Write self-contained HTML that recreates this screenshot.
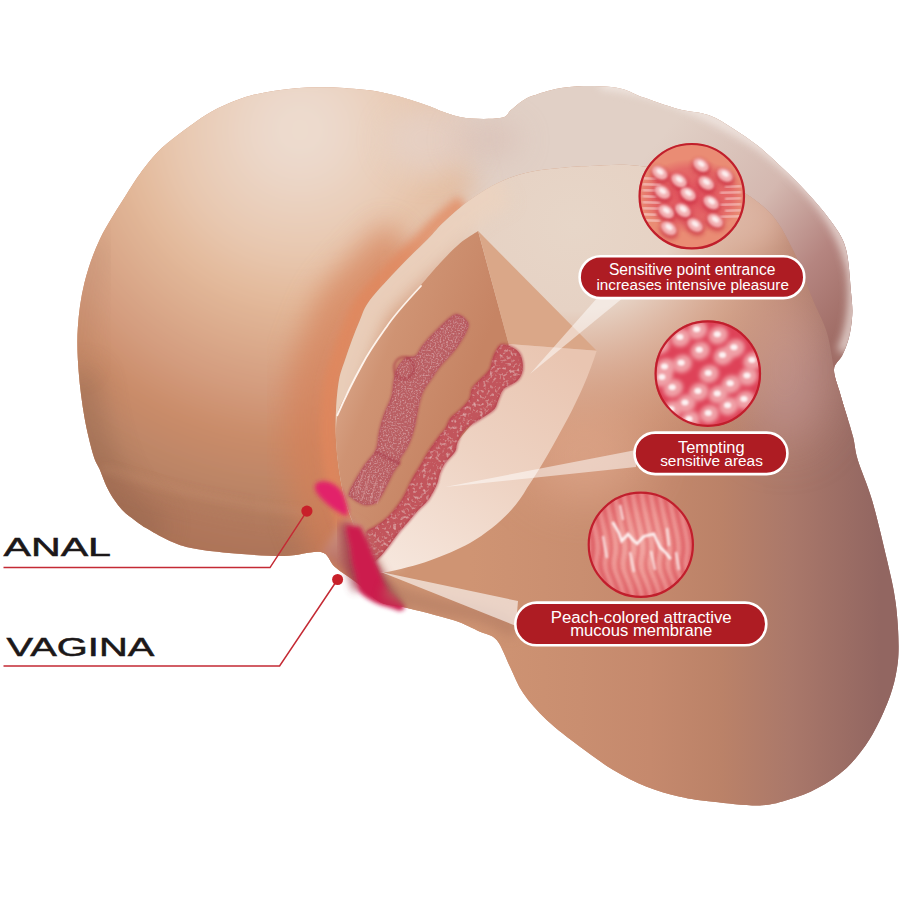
<!DOCTYPE html>
<html><head><meta charset="utf-8">
<style>
html,body{margin:0;padding:0;background:#fff;}
body{width:900px;height:900px;overflow:hidden;position:relative;font-family:"Liberation Sans",sans-serif;}
svg{position:absolute;left:0;top:0;}
</style></head><body>
<svg width="900" height="900" viewBox="0 0 900 900">
<defs>
  <filter id="b1" x="-50%" y="-50%" width="200%" height="200%"><feGaussianBlur stdDeviation="1"/></filter>
  <filter id="b2" x="-50%" y="-50%" width="200%" height="200%"><feGaussianBlur stdDeviation="2"/></filter>
  <filter id="b4" x="-50%" y="-50%" width="200%" height="200%"><feGaussianBlur stdDeviation="4"/></filter>
  <filter id="b6" x="-50%" y="-50%" width="200%" height="200%"><feGaussianBlur stdDeviation="6"/></filter>
  <filter id="b8" x="-50%" y="-50%" width="200%" height="200%"><feGaussianBlur stdDeviation="8"/></filter>
  <filter id="b10" x="-50%" y="-50%" width="200%" height="200%"><feGaussianBlur stdDeviation="10"/></filter>
  <filter id="b14" x="-50%" y="-50%" width="200%" height="200%"><feGaussianBlur stdDeviation="14"/></filter>
  <filter id="b25" x="-50%" y="-50%" width="200%" height="200%"><feGaussianBlur stdDeviation="25"/></filter>
  <filter id="b40" x="-50%" y="-50%" width="200%" height="200%"><feGaussianBlur stdDeviation="40"/></filter>
  <clipPath id="bodyclip"><path d="M162.0,147.8 C168.7,141.5 177.0,135.6 184.4,130.0 C191.8,124.4 199.3,118.9 206.7,114.4 C214.1,110.0 221.5,106.4 228.9,103.3 C236.3,100.2 243.6,97.6 251.0,95.6 C258.4,93.6 265.9,92.3 273.3,91.1 C280.7,89.9 288.2,88.8 295.6,88.2 C303.0,87.6 310.4,87.4 317.8,87.3 C325.2,87.2 329.6,87.0 340.0,87.8 C350.4,88.6 366.7,89.5 380.0,92.0 C393.3,94.5 406.7,98.8 420.0,103.0 C433.3,107.2 446.7,114.5 460.0,117.0 C473.3,119.5 491.5,119.2 500.0,118.0 C508.5,116.8 507.3,112.8 511.0,110.0 C514.7,107.2 518.5,103.5 522.2,101.1 C525.9,98.7 527.7,97.6 533.3,95.6 C538.9,93.6 548.2,90.5 555.6,88.9 C563.0,87.3 570.4,86.7 577.8,86.2 C585.2,85.8 592.6,85.8 600.0,86.2 C607.4,86.7 614.8,87.0 622.2,88.9 C629.6,90.8 635.1,94.5 644.4,97.8 C653.7,101.1 667.0,106.0 677.8,108.9 C688.6,111.8 699.8,111.9 709.0,115.2 C718.2,118.5 725.2,123.6 733.3,128.7 C741.4,133.8 749.6,139.3 757.8,145.8 C765.9,152.3 774.1,160.1 782.2,167.8 C790.4,175.5 798.6,183.2 806.7,192.2 C814.9,201.2 824.6,212.2 831.1,221.6 C837.6,231.0 842.5,236.6 845.8,248.5 C849.1,260.4 850.0,282.1 851.1,293.3 C852.2,304.5 852.6,308.2 852.2,315.6 C851.8,323.0 850.6,331.1 848.9,337.8 C847.2,344.5 844.7,350.3 842.2,355.6 C839.7,360.9 834.4,363.2 834.0,369.5 C833.6,375.8 837.9,385.6 840.0,393.3 C842.1,401.0 844.5,408.2 846.7,415.6 C848.9,423.0 851.4,430.4 853.3,437.8 C855.1,445.2 854.7,449.6 857.8,460.0 C860.9,470.4 867.1,483.3 872.0,500.0 C876.9,516.7 883.0,542.8 887.0,560.0 C891.0,577.2 893.8,588.6 895.7,603.0 C897.6,617.4 898.6,634.5 898.6,646.6 C898.6,658.7 897.6,665.9 895.7,675.5 C893.8,685.1 891.3,693.4 887.0,704.0 C882.7,714.6 876.4,728.4 869.7,739.0 C863.0,749.6 855.3,759.7 846.6,767.9 C837.9,776.1 827.3,782.7 817.7,788.0 C808.1,793.3 798.5,796.7 788.9,799.6 C779.3,802.5 772.6,805.0 760.0,805.4 C747.4,805.8 726.6,803.2 713.3,801.7 C700.0,800.2 691.1,799.2 680.0,796.7 C668.9,794.2 657.8,791.2 646.7,786.7 C635.6,782.2 624.4,776.7 613.3,770.0 C602.2,763.3 591.1,755.0 580.0,746.7 C568.9,738.4 556.2,728.9 546.7,720.0 C537.2,711.1 529.4,702.2 523.3,693.3 C517.2,684.4 514.4,675.6 510.0,666.7 C505.6,657.8 501.7,645.8 496.7,640.0 C491.7,634.2 487.3,635.0 480.0,631.7 C472.7,628.4 465.8,624.1 453.0,620.0 C440.2,615.9 415.2,610.0 403.0,607.0 C390.8,604.0 387.7,606.0 380.0,602.0 C372.3,598.0 364.5,588.8 357.0,583.0 C349.5,577.2 341.0,572.2 335.0,567.0 C329.0,561.8 329.5,553.8 321.0,552.0 C312.5,550.2 299.3,555.8 284.0,556.0 C268.7,556.2 244.7,554.4 229.0,553.0 C213.3,551.6 200.2,550.0 190.0,547.8 C179.8,545.6 175.2,543.3 167.8,540.0 C160.4,536.7 151.2,531.1 145.6,527.8 C140.0,524.5 138.1,522.8 134.4,520.0 C130.7,517.2 126.6,514.4 123.3,511.1 C120.0,507.8 117.2,504.1 114.4,500.0 C111.6,495.9 109.1,491.7 106.7,486.7 C104.3,481.7 102.2,475.3 100.0,470.0 C97.8,464.7 95.9,463.8 93.3,455.0 C90.7,446.2 86.8,430.8 84.4,417.0 C82.0,403.2 79.8,386.8 78.7,372.0 C77.6,357.2 76.8,342.8 77.8,328.0 C78.8,313.2 80.7,297.8 84.4,283.0 C88.1,268.2 93.0,253.8 100.0,239.0 C107.0,224.2 119.3,205.9 126.7,194.0 C134.1,182.1 138.5,175.5 144.4,167.8 C150.3,160.1 155.3,154.1 162.0,147.8 Z"/></clipPath>
  <linearGradient id="gHump" x1="650" y1="150" x2="850" y2="320" gradientUnits="userSpaceOnUse">
    <stop offset="0" stop-color="#e1d0c6"/>
    <stop offset="0.45" stop-color="#d4b8b0"/>
    <stop offset="0.75" stop-color="#b58580"/>
    <stop offset="1" stop-color="#a06d66"/>
  </linearGradient>
  <linearGradient id="gLobe" x1="470" y1="0" x2="880" y2="0" gradientUnits="userSpaceOnUse">
    <stop offset="0" stop-color="#cf9473"/>
    <stop offset="0.27" stop-color="#c98e70"/>
    <stop offset="0.44" stop-color="#c5896d"/>
    <stop offset="0.61" stop-color="#bb8268"/>
    <stop offset="0.78" stop-color="#aa786a"/>
    <stop offset="1" stop-color="#926661"/>
  </linearGradient>
  <radialGradient id="gLeft" cx="300" cy="130" r="420" gradientUnits="userSpaceOnUse">
    <stop offset="0" stop-color="#eddccf"/>
    <stop offset="0.08" stop-color="#ecd9cc"/>
    <stop offset="0.29" stop-color="#e8c8b0"/>
    <stop offset="0.41" stop-color="#e3b99a"/>
    <stop offset="0.63" stop-color="#d39b7d"/>
    <stop offset="0.74" stop-color="#ca8b68"/>
    <stop offset="0.87" stop-color="#bb8566"/>
    <stop offset="1" stop-color="#ad7358"/>
  </radialGradient>
  <radialGradient id="gOvalLight" cx="575" cy="225" r="290" gradientUnits="userSpaceOnUse" gradientTransform="translate(575 225) scale(1 0.9) translate(-575 -225)">
    <stop offset="0" stop-color="#e7d6c8" stop-opacity="1"/>
    <stop offset="0.33" stop-color="#e6d2c4" stop-opacity="1"/>
    <stop offset="0.55" stop-color="#e0b8a3" stop-opacity="0.75"/>
    <stop offset="0.8" stop-color="#dca587" stop-opacity="0.35"/>
    <stop offset="1" stop-color="#d39a7b" stop-opacity="0"/>
  </radialGradient>
</defs>
<clipPath id="lobeclip"><path d="M378.0,572.0 C374.3,565.0 361.5,542.0 356.0,530.0 C350.5,518.0 347.8,510.0 345.0,500.0 C342.2,490.0 340.5,480.0 339.0,470.0 C337.5,460.0 336.5,450.0 336.0,440.0 C335.5,430.0 335.5,420.0 336.0,410.0 C336.5,400.0 337.5,388.3 339.0,380.0 C340.5,371.7 342.8,366.7 345.0,360.0 C347.2,353.3 349.5,346.7 352.0,340.0 C354.5,333.3 357.0,326.7 360.0,320.0 C363.0,313.3 363.3,308.9 370.0,300.0 C376.7,291.1 390.3,276.9 400.0,266.7 C409.7,256.5 420.7,246.4 428.0,239.0 C435.3,231.6 437.0,228.5 444.0,222.0 C451.0,215.5 460.7,206.7 470.0,200.0 C479.3,193.3 490.0,186.7 500.0,182.0 C510.0,177.3 520.0,174.3 530.0,172.0 C540.0,169.7 550.0,169.0 560.0,168.0 C570.0,167.0 576.7,166.3 590.0,166.0 C603.3,165.7 618.3,163.3 640.0,166.0 C661.7,168.7 698.8,174.7 720.0,182.0 C741.2,189.3 754.8,198.7 767.0,210.0 C779.2,221.3 785.3,235.0 793.0,250.0 C800.7,265.0 807.3,286.2 813.0,300.0 C818.7,313.8 823.5,321.3 827.0,333.0 C830.5,344.7 832.8,363.8 834.0,370.0  L900,372 L900,900 L380,900 Z"/></clipPath>
<g clip-path="url(#bodyclip)">
<rect x="0" y="0" width="900" height="900" fill="url(#gLobe)"/>
<rect x="380" y="0" width="520" height="420" fill="url(#gHump)"/>
<path d="M600,84 C650,88 700,108 760,145 C800,175 840,215 852,270 C856,300 852,330 842,352" fill="none" stroke="#f4ece8" stroke-width="10" filter="url(#b4)" opacity="0.8"/>
<path d="M440,60 L0,60 L0,620 L372,566 C355,545 345,520 340,487 C337,437 340,380 355,340 C370,300 395,262 433,224 C450,208 462,200 475,192 C462,160 450,120 440,60 Z" fill="url(#gLeft)" filter="url(#b14)"/>
<ellipse cx="430" cy="140" rx="45" ry="35" fill="#e5d1c7" filter="url(#b14)" opacity="0.8"/>
<path d="M356.0,576.0 C352.3,569.0 339.5,546.0 334.0,534.0 C328.5,522.0 325.8,514.0 323.0,504.0 C320.2,494.0 318.5,484.0 317.0,474.0 C315.5,464.0 314.5,454.0 314.0,444.0 C313.5,434.0 313.5,424.0 314.0,414.0 C314.5,404.0 315.5,392.3 317.0,384.0 C318.5,375.7 320.8,370.7 323.0,364.0 C325.2,357.3 327.5,350.7 330.0,344.0 C332.5,337.3 335.0,330.7 338.0,324.0 C341.0,317.3 341.3,312.9 348.0,304.0 C354.7,295.1 368.3,280.9 378.0,270.7 C387.7,260.5 401.3,247.6 406.0,243.0 " fill="none" stroke="#d57f56" stroke-width="60" filter="url(#b14)" opacity="0.65"/>
<path d="M371.0,574.0 C367.3,567.0 354.5,544.0 349.0,532.0 C343.5,520.0 340.8,512.0 338.0,502.0 C335.2,492.0 333.5,482.0 332.0,472.0 C330.5,462.0 329.5,452.0 329.0,442.0 C328.5,432.0 328.5,422.0 329.0,412.0 C329.5,402.0 330.5,390.3 332.0,382.0 C333.5,373.7 335.8,368.7 338.0,362.0 C340.2,355.3 342.5,348.7 345.0,342.0 C347.5,335.3 350.0,328.7 353.0,322.0 C356.0,315.3 356.3,310.9 363.0,302.0 C369.7,293.1 383.3,278.9 393.0,268.7 C402.7,258.5 413.7,248.4 421.0,241.0 C428.3,233.6 430.0,230.5 437.0,224.0 C444.0,217.5 458.7,205.7 463.0,202.0 " fill="none" stroke="#e2865c" stroke-width="16" filter="url(#b4)" opacity="0.75"/>
<ellipse cx="488" cy="140" rx="34" ry="20" fill="#d8bdb4" filter="url(#b14)" opacity="0.55"/>
<path d="M80,370 C82,417 95,461 112,492 C125,512 140,525 160,535" fill="none" stroke="#8e624c" stroke-width="34" filter="url(#b14)" opacity="0.48"/>
<path d="M100,239 C84,283 77.8,328 78.7,372" fill="none" stroke="#a87a62" stroke-width="16" filter="url(#b14)" opacity="0.3"/>
<path d="M101,467 C120,474 135,478 145.6,481 C165,487 185,492 201,495 C225,500 240,503 256.7,506 C275,509 288,511 305,513" fill="none" stroke="#d8a080" stroke-width="4" filter="url(#b4)" opacity="0.35"/>
<path d="M105,478 C140,492 200,506 300,522" fill="none" stroke="#a86e54" stroke-width="10" filter="url(#b8)" opacity="0.25"/>
</g>
<g clip-path="url(#bodyclip)"><g clip-path="url(#lobeclip)">
<rect x="300" y="100" width="600" height="800" fill="url(#gLobe)"/>
<ellipse cx="785" cy="370" rx="45" ry="75" fill="#c0928c" filter="url(#b25)" opacity="0.85"/>
<ellipse cx="745" cy="215" rx="40" ry="35" fill="#d8b8b0" filter="url(#b14)" opacity="0.9"/>
<ellipse cx="585" cy="455" rx="60" ry="45" fill="#dea68a" filter="url(#b25)" opacity="0.8"/>
<rect x="300" y="100" width="600" height="800" fill="url(#gOvalLight)"/>
<path d="M378.0,572.0 C374.3,565.0 361.5,542.0 356.0,530.0 C350.5,518.0 347.8,510.0 345.0,500.0 C342.2,490.0 340.5,480.0 339.0,470.0 C337.5,460.0 336.5,450.0 336.0,440.0 C335.5,430.0 335.5,420.0 336.0,410.0 C336.5,400.0 337.5,388.3 339.0,380.0 C340.5,371.7 342.8,366.7 345.0,360.0 C347.2,353.3 349.5,346.7 352.0,340.0 C354.5,333.3 357.0,326.7 360.0,320.0 C363.0,313.3 363.3,308.9 370.0,300.0 C376.7,291.1 390.3,276.9 400.0,266.7 C409.7,256.5 420.7,246.4 428.0,239.0 C435.3,231.6 437.0,228.5 444.0,222.0 C451.0,215.5 460.7,206.7 470.0,200.0 C479.3,193.3 495.0,185.0 500.0,182.0 " fill="none" stroke="#ebd3c0" stroke-width="50" filter="url(#b8)" opacity="0.9"/>
</g></g>
<linearGradient id="gFace" x1="345" y1="330" x2="470" y2="380" gradientUnits="userSpaceOnUse"><stop offset="0" stop-color="#dcab8f"/><stop offset="0.35" stop-color="#cf9373"/><stop offset="1" stop-color="#c68464"/></linearGradient>
<path d="M478.1,231.1 C475.1,233.1 466.0,238.3 460.0,243.3 C454.0,248.3 447.8,254.9 442.0,261.0 C436.2,267.1 432.3,271.9 425.3,280.0 C418.3,288.1 406.4,301.5 400.0,309.3 C393.6,317.1 390.8,321.0 386.7,326.7 C382.6,332.4 378.8,338.0 375.3,343.3 C371.9,348.6 369.4,352.6 366.0,358.7 C362.6,364.8 358.5,373.1 354.7,380.0 C350.9,386.9 345.9,394.1 343.0,400.0 C340.1,405.9 338.5,408.6 337.3,415.3 C336.1,422.0 335.7,430.9 336.0,440.0 C336.3,449.1 337.5,460.0 339.0,470.0 C340.5,480.0 342.2,490.0 345.0,500.0 C347.8,510.0 352.2,520.7 356.0,530.0 C359.8,539.3 364.3,549.0 368.0,556.0 C371.7,563.0 376.3,569.3 378.0,572.0  L470,470 L508.7,344 Z" fill="url(#gFace)"/>
<path d="M478.1,231.1 L596.7,350.7 L508.7,344 Z" fill="#daa788"/>
<path d="M421,286 C408,300 395,314 386.7,326.7 C378,339 370,350 362,365 C352,383 344,400 337.3,415.3" fill="none" stroke="#fff7f0" stroke-width="1.8" stroke-linecap="round" opacity="0.95"/>
<linearGradient id="gFacet" x1="560" y1="350" x2="400" y2="570" gradientUnits="userSpaceOnUse"><stop offset="0" stop-color="#e9c5b1"/><stop offset="0.5" stop-color="#eed3c3"/><stop offset="1" stop-color="#f6e6dc"/></linearGradient>
<path d="M508.7,344 L596.7,350.7 C589,375 579,397 568,418 C554,444 542,466 527,488 C515,510 495,528 470,543 C445,556 420,566 380,573.3 L372,560 C385,545 400,530 412,515 C425,495 435,478 445,460 C460,435 480,415 495,400 C505,385 512,370 508.7,344 Z" fill="url(#gFacet)"/>
<filter id="tex" x="-5%" y="-5%" width="110%" height="110%">
  <feTurbulence type="fractalNoise" baseFrequency="0.6" numOctaves="2" seed="3" result="n"/>
  <feColorMatrix in="n" type="matrix" values="0 0 0 0 0.86  0 0 0 0 0.56  0 0 0 0 0.58  0 0 0 1.3 -0.62" result="spots"/>
  <feComposite in="spots" in2="SourceGraphic" operator="in" result="s2"/>
  <feMerge><feMergeNode in="SourceGraphic"/><feMergeNode in="s2"/></feMerge>
  <feGaussianBlur stdDeviation="0.7"/>
</filter>
<filter id="tex2" x="-5%" y="-5%" width="110%" height="110%">
  <feTurbulence type="fractalNoise" baseFrequency="0.3" numOctaves="2" seed="7" result="n"/>
  <feColorMatrix in="n" type="matrix" values="0 0 0 0 0.9  0 0 0 0 0.66  0 0 0 0 0.66  0 0 0 1.5 -0.78" result="spots"/>
  <feComposite in="spots" in2="SourceGraphic" operator="in" result="s2"/>
  <feMerge><feMergeNode in="SourceGraphic"/><feMergeNode in="s2"/></feMerge>
  <feGaussianBlur stdDeviation="0.7"/>
</filter>
<path d="M455.6,314.4 C460.6,313.3 466.0,319.4 467.8,322.2 C469.6,325.0 468.2,327.3 466.7,331.0 C465.2,334.7 461.3,340.7 458.9,344.4 C456.5,348.1 455.3,349.6 452.2,353.3 C449.1,357.0 443.3,362.6 440.0,366.7 C436.7,370.8 434.9,373.9 432.2,377.8 C429.5,381.7 426.1,385.8 424.0,390.0 C421.9,394.2 420.9,397.2 419.3,403.3 C417.8,409.4 416.5,419.7 414.7,426.7 C412.9,433.7 410.7,440.1 408.4,445.3 C406.1,450.5 402.3,454.7 400.7,457.8 C399.1,460.9 400.3,461.4 399.0,464.0 C397.7,466.6 395.5,468.6 392.9,473.3 C390.3,478.0 386.4,487.1 383.5,492.0 C380.6,496.9 379.2,500.8 375.8,502.9 C372.4,505.0 367.3,505.2 363.3,504.4 C359.3,503.6 354.3,500.1 352.0,498.0 C349.7,495.9 347.4,497.2 349.3,492.0 C351.2,486.8 358.9,474.0 363.3,467.0 C367.7,460.0 373.2,455.7 375.8,450.0 C378.4,444.3 377.6,438.6 378.9,432.9 C380.2,427.2 381.4,421.8 383.5,415.8 C385.6,409.8 389.7,402.5 391.3,397.1 C392.9,391.7 392.4,388.0 393.3,383.3 C394.2,378.6 394.6,373.1 396.7,368.9 C398.8,364.6 402.5,360.0 405.6,357.8 C408.8,355.6 412.7,357.8 415.6,355.6 C418.6,353.4 419.6,348.8 423.3,344.4 C427.0,339.9 432.4,333.9 437.8,328.9 C443.2,323.9 450.6,315.5 455.6,314.4 Z" fill="#ba5e64" filter="url(#tex)"/>
<path d="M455.6,314.4 C460.6,313.3 466.0,319.4 467.8,322.2 C469.6,325.0 468.2,327.3 466.7,331.0 C465.2,334.7 461.3,340.7 458.9,344.4 C456.5,348.1 455.3,349.6 452.2,353.3 C449.1,357.0 443.3,362.6 440.0,366.7 C436.7,370.8 434.9,373.9 432.2,377.8 C429.5,381.7 426.1,385.8 424.0,390.0 C421.9,394.2 420.9,397.2 419.3,403.3 C417.8,409.4 416.5,419.7 414.7,426.7 C412.9,433.7 410.7,440.1 408.4,445.3 C406.1,450.5 402.3,454.7 400.7,457.8 C399.1,460.9 400.3,461.4 399.0,464.0 C397.7,466.6 395.5,468.6 392.9,473.3 C390.3,478.0 386.4,487.1 383.5,492.0 C380.6,496.9 379.2,500.8 375.8,502.9 C372.4,505.0 367.3,505.2 363.3,504.4 C359.3,503.6 354.3,500.1 352.0,498.0 C349.7,495.9 347.4,497.2 349.3,492.0 C351.2,486.8 358.9,474.0 363.3,467.0 C367.7,460.0 373.2,455.7 375.8,450.0 C378.4,444.3 377.6,438.6 378.9,432.9 C380.2,427.2 381.4,421.8 383.5,415.8 C385.6,409.8 389.7,402.5 391.3,397.1 C392.9,391.7 392.4,388.0 393.3,383.3 C394.2,378.6 394.6,373.1 396.7,368.9 C398.8,364.6 402.5,360.0 405.6,357.8 C408.8,355.6 412.7,357.8 415.6,355.6 C418.6,353.4 419.6,348.8 423.3,344.4 C427.0,339.9 432.4,333.9 437.8,328.9 C443.2,323.9 450.6,315.5 455.6,314.4 Z" fill="none" stroke="#b04a56" stroke-width="1.6" opacity="0.75" filter="url(#b1)"/>
<ellipse cx="404" cy="368" rx="10" ry="11" fill="none" stroke="#a83444" stroke-width="2.5" opacity="0.55" filter="url(#b1)"/>
<path d="M376,452 L400,464" stroke="#a83848" stroke-width="3" opacity="0.6" filter="url(#b1)"/>
<path d="M364,470 L356,494 M370,474 L362,500 M377,478 L370,502 M384,482 L377,504" stroke="#d89a9a" stroke-width="1.2" opacity="0.5"/>
<path d="M501.3,344.7 C504.9,343.4 511.4,346.7 514.7,348.7 C518.0,350.7 520.0,353.1 521.3,356.7 C522.6,360.2 523.4,366.0 522.7,370.0 C522.0,374.0 520.4,377.6 517.3,380.7 C514.2,383.8 507.1,385.6 504.0,388.7 C500.9,391.8 500.2,396.0 498.7,399.3 C497.1,402.6 497.1,405.8 494.7,408.7 C492.2,411.6 488.2,413.8 484.0,416.7 C479.8,419.6 473.1,423.1 469.3,426.0 C465.5,428.9 463.3,431.1 461.3,434.0 C459.3,436.9 458.4,440.4 457.3,443.3 C456.2,446.2 457.1,448.4 455.0,451.7 C452.9,455.0 447.5,459.7 445.0,463.3 C442.5,466.9 441.4,469.7 440.0,473.3 C438.6,476.9 438.6,480.6 436.7,485.0 C434.8,489.4 431.4,495.8 428.3,500.0 C425.2,504.2 421.6,506.4 418.3,510.0 C415.0,513.6 411.6,517.8 408.3,521.7 C405.0,525.6 401.6,529.1 398.3,533.3 C395.0,537.5 391.4,542.8 388.3,546.7 C385.2,550.6 382.5,554.2 380.0,556.7 C377.5,559.2 375.3,561.5 373.3,561.7 C371.3,561.9 369.4,560.5 368.0,558.0 C366.6,555.5 365.2,551.1 365.0,546.7 C364.8,542.3 365.0,535.0 366.7,531.7 C368.4,528.4 371.4,529.2 375.0,526.7 C378.6,524.2 383.9,521.2 388.3,516.7 C392.8,512.2 397.8,506.1 401.7,500.0 C405.6,493.9 408.4,486.1 411.7,480.0 C415.0,473.9 418.9,468.0 421.7,463.3 C424.5,458.6 425.2,456.4 428.3,451.7 C431.4,447.0 437.2,439.1 440.0,435.3 C442.8,431.5 443.5,431.6 445.3,428.7 C447.1,425.8 448.2,421.1 450.7,418.0 C453.1,414.9 456.9,413.1 460.0,410.0 C463.1,406.9 467.3,402.9 469.3,399.3 C471.3,395.8 470.4,391.8 472.0,388.7 C473.6,385.6 475.8,383.8 478.7,380.7 C481.6,377.6 486.9,374.0 489.3,370.0 C491.7,366.0 491.3,360.9 493.3,356.7 C495.3,352.5 497.7,346.0 501.3,344.7 Z" fill="#c2545c" filter="url(#tex2)"/>
<path d="M501.3,344.7 C504.9,343.4 511.4,346.7 514.7,348.7 C518.0,350.7 520.0,353.1 521.3,356.7 C522.6,360.2 523.4,366.0 522.7,370.0 C522.0,374.0 520.4,377.6 517.3,380.7 C514.2,383.8 507.1,385.6 504.0,388.7 C500.9,391.8 500.2,396.0 498.7,399.3 C497.1,402.6 497.1,405.8 494.7,408.7 C492.2,411.6 488.2,413.8 484.0,416.7 C479.8,419.6 473.1,423.1 469.3,426.0 C465.5,428.9 463.3,431.1 461.3,434.0 C459.3,436.9 458.4,440.4 457.3,443.3 C456.2,446.2 457.1,448.4 455.0,451.7 C452.9,455.0 447.5,459.7 445.0,463.3 C442.5,466.9 441.4,469.7 440.0,473.3 C438.6,476.9 438.6,480.6 436.7,485.0 C434.8,489.4 431.4,495.8 428.3,500.0 C425.2,504.2 421.6,506.4 418.3,510.0 C415.0,513.6 411.6,517.8 408.3,521.7 C405.0,525.6 401.6,529.1 398.3,533.3 C395.0,537.5 391.4,542.8 388.3,546.7 C385.2,550.6 382.5,554.2 380.0,556.7 C377.5,559.2 375.3,561.5 373.3,561.7 C371.3,561.9 369.4,560.5 368.0,558.0 C366.6,555.5 365.2,551.1 365.0,546.7 C364.8,542.3 365.0,535.0 366.7,531.7 C368.4,528.4 371.4,529.2 375.0,526.7 C378.6,524.2 383.9,521.2 388.3,516.7 C392.8,512.2 397.8,506.1 401.7,500.0 C405.6,493.9 408.4,486.1 411.7,480.0 C415.0,473.9 418.9,468.0 421.7,463.3 C424.5,458.6 425.2,456.4 428.3,451.7 C431.4,447.0 437.2,439.1 440.0,435.3 C442.8,431.5 443.5,431.6 445.3,428.7 C447.1,425.8 448.2,421.1 450.7,418.0 C453.1,414.9 456.9,413.1 460.0,410.0 C463.1,406.9 467.3,402.9 469.3,399.3 C471.3,395.8 470.4,391.8 472.0,388.7 C473.6,385.6 475.8,383.8 478.7,380.7 C481.6,377.6 486.9,374.0 489.3,370.0 C491.7,366.0 491.3,360.9 493.3,356.7 C495.3,352.5 497.7,346.0 501.3,344.7 Z" fill="none" stroke="#b23a48" stroke-width="1.5" opacity="0.85" filter="url(#b1)"/>
<g clip-path="url(#bodyclip)">
<linearGradient id="gLip" x1="330" y1="520" x2="360" y2="600" gradientUnits="userSpaceOnUse"><stop offset="0" stop-color="#d4a08c"/><stop offset="0.45" stop-color="#bb7468"/><stop offset="1" stop-color="#96444a"/></linearGradient>
<path d="M322,553 C330,540 338,528 346,518 L362,527 C372,550 385,580 405,607 L398,610 C380,606 365,598 355,580 C345,570 332,562 322,553 Z" fill="url(#gLip)" filter="url(#b4)"/>
</g>
<path d="M344,522 C346,545 350,565 358,590" fill="none" stroke="#a03a48" stroke-width="10" filter="url(#b4)" opacity="0.8"/>
<path d="M317,483 C325,478 338,484 343,494 C347,503 349,512 347,516 C340,514 328,506 320,497 C315,491 313,486 317,483 Z" fill="#e2236a" filter="url(#b2)"/>
<path d="M346,525 L360.7,527 C364,535 368,541 369.6,546.7 C372,552 374,558 376.7,564.4 C379,570 381,576 383.8,582.2 C387,588 390,592 394.4,594.7 C399,600 402,603 405,607 C403,612 398,611 394.4,609 C388,607 382,606 377,603.6 C370,600 364,597 359,591 C357,585 356,579 355,573 C352,565 351,556 350,547 C348,540 346,532 346,525 Z" fill="#cc1c4e" filter="url(#b2)"/>
<path d="M598,297 L624,297 L530,374 Z" fill="#fff" opacity="0.5"/>
<path d="M636,450 L636,467 L445,487 Z" fill="#fff" opacity="0.5"/>
<g clip-path="url(#bodyclip)"><path d="M385,590 C405,598 430,606 470,612 C490,616 505,622 515,632" fill="none" stroke="#b07a62" stroke-width="16" filter="url(#b6)" opacity="0.6"/></g>
<path d="M518,601 L516,626 L381,572 Z" fill="#fff" opacity="0.6"/>
<clipPath id="cc1"><circle cx="691.8" cy="196.2" r="53.3"/></clipPath>
<g clip-path="url(#cc1)">
<radialGradient id="rg1" cx="691.8" cy="196.2" r="53.3" gradientUnits="userSpaceOnUse" gradientTransform="translate(691.8 196.2) scale(1 0.7) translate(-691.8 -196.2)"><stop offset="0" stop-color="#e2505e"/><stop offset="0.75" stop-color="#e46a68"/><stop offset="1" stop-color="#ea8c74"/></radialGradient>
<rect x="638.5" y="142.89999999999998" width="106.6" height="106.6" fill="url(#rg1)"/>
<path d="M642.5,178 l14,1" stroke="#fde6e6" stroke-width="2" opacity="0.8" filter="url(#b1)"/>
<path d="M642.5,184 l18,1" stroke="#fde6e6" stroke-width="2" opacity="0.8" filter="url(#b1)"/>
<path d="M642.5,190 l22,1" stroke="#fde6e6" stroke-width="2" opacity="0.8" filter="url(#b1)"/>
<path d="M642.5,196 l14,1" stroke="#fde6e6" stroke-width="2" opacity="0.8" filter="url(#b1)"/>
<path d="M642.5,202 l18,1" stroke="#fde6e6" stroke-width="2" opacity="0.8" filter="url(#b1)"/>
<path d="M642.5,208 l22,1" stroke="#fde6e6" stroke-width="2" opacity="0.8" filter="url(#b1)"/>
<path d="M642.5,214 l14,1" stroke="#fde6e6" stroke-width="2" opacity="0.8" filter="url(#b1)"/>
<path d="M642.5,220 l18,1" stroke="#fde6e6" stroke-width="2" opacity="0.8" filter="url(#b1)"/>
<path d="M741.0999999999999,186 l-16,1" stroke="#fde6e6" stroke-width="2" opacity="0.75" filter="url(#b1)"/>
<path d="M741.0999999999999,192 l-21,1" stroke="#fde6e6" stroke-width="2" opacity="0.75" filter="url(#b1)"/>
<path d="M741.0999999999999,198 l-16,1" stroke="#fde6e6" stroke-width="2" opacity="0.75" filter="url(#b1)"/>
<path d="M741.0999999999999,204 l-21,1" stroke="#fde6e6" stroke-width="2" opacity="0.75" filter="url(#b1)"/>
<path d="M741.0999999999999,210 l-16,1" stroke="#fde6e6" stroke-width="2" opacity="0.75" filter="url(#b1)"/>
<path d="M741.0999999999999,216 l-21,1" stroke="#fde6e6" stroke-width="2" opacity="0.75" filter="url(#b1)"/>
<ellipse cx="661.3" cy="174.8" rx="10" ry="7.5" fill="#c42238" opacity="0.6" filter="url(#b2)" transform="rotate(35 659.8 172.8)"/>
<ellipse cx="702.5" cy="167.0" rx="10" ry="7.5" fill="#c42238" opacity="0.6" filter="url(#b2)" transform="rotate(35 701 165)"/>
<ellipse cx="707.7" cy="185.1" rx="10" ry="7.5" fill="#c42238" opacity="0.6" filter="url(#b2)" transform="rotate(35 706.2 183.1)"/>
<ellipse cx="663.9" cy="194.1" rx="10" ry="7.5" fill="#c42238" opacity="0.6" filter="url(#b2)" transform="rotate(35 662.4 192.1)"/>
<ellipse cx="680.6" cy="182.5" rx="10" ry="7.5" fill="#c42238" opacity="0.6" filter="url(#b2)" transform="rotate(35 679.1 180.5)"/>
<ellipse cx="712.8" cy="204.4" rx="10" ry="7.5" fill="#c42238" opacity="0.6" filter="url(#b2)" transform="rotate(35 711.3 202.4)"/>
<ellipse cx="667.7" cy="213.5" rx="10" ry="7.5" fill="#c42238" opacity="0.6" filter="url(#b2)" transform="rotate(35 666.2 211.5)"/>
<ellipse cx="716.7" cy="222.5" rx="10" ry="7.5" fill="#c42238" opacity="0.6" filter="url(#b2)" transform="rotate(35 715.2 220.5)"/>
<ellipse cx="670.3" cy="230.2" rx="10" ry="7.5" fill="#c42238" opacity="0.6" filter="url(#b2)" transform="rotate(35 668.8 228.2)"/>
<ellipse cx="689.6" cy="196.0" rx="10" ry="7.5" fill="#c42238" opacity="0.6" filter="url(#b2)" transform="rotate(35 688.1 194)"/>
<ellipse cx="684.5" cy="212.2" rx="10" ry="7.5" fill="#c42238" opacity="0.6" filter="url(#b2)" transform="rotate(35 683 210.2)"/>
<ellipse cx="726.5" cy="177.0" rx="10" ry="7.5" fill="#c42238" opacity="0.6" filter="url(#b2)" transform="rotate(35 725 175)"/>
<ellipse cx="696.5" cy="227.0" rx="10" ry="7.5" fill="#c42238" opacity="0.6" filter="url(#b2)" transform="rotate(35 695 225)"/>
<ellipse cx="659.8" cy="172.8" rx="8.5" ry="6" fill="#f3b0b2" filter="url(#b1)" transform="rotate(35 659.8 172.8)"/>
<ellipse cx="659.3" cy="171.8" rx="4" ry="2.6" fill="#fff" opacity="0.8" filter="url(#b1)" transform="rotate(35 659.8 172.8)"/>
<ellipse cx="701" cy="165" rx="8.5" ry="6" fill="#f3b0b2" filter="url(#b1)" transform="rotate(35 701 165)"/>
<ellipse cx="700.5" cy="164" rx="4" ry="2.6" fill="#fff" opacity="0.8" filter="url(#b1)" transform="rotate(35 701 165)"/>
<ellipse cx="706.2" cy="183.1" rx="8.5" ry="6" fill="#f3b0b2" filter="url(#b1)" transform="rotate(35 706.2 183.1)"/>
<ellipse cx="705.7" cy="182.1" rx="4" ry="2.6" fill="#fff" opacity="0.8" filter="url(#b1)" transform="rotate(35 706.2 183.1)"/>
<ellipse cx="662.4" cy="192.1" rx="8.5" ry="6" fill="#f3b0b2" filter="url(#b1)" transform="rotate(35 662.4 192.1)"/>
<ellipse cx="661.9" cy="191.1" rx="4" ry="2.6" fill="#fff" opacity="0.8" filter="url(#b1)" transform="rotate(35 662.4 192.1)"/>
<ellipse cx="679.1" cy="180.5" rx="8.5" ry="6" fill="#f3b0b2" filter="url(#b1)" transform="rotate(35 679.1 180.5)"/>
<ellipse cx="678.6" cy="179.5" rx="4" ry="2.6" fill="#fff" opacity="0.8" filter="url(#b1)" transform="rotate(35 679.1 180.5)"/>
<ellipse cx="711.3" cy="202.4" rx="8.5" ry="6" fill="#f3b0b2" filter="url(#b1)" transform="rotate(35 711.3 202.4)"/>
<ellipse cx="710.8" cy="201.4" rx="4" ry="2.6" fill="#fff" opacity="0.8" filter="url(#b1)" transform="rotate(35 711.3 202.4)"/>
<ellipse cx="666.2" cy="211.5" rx="8.5" ry="6" fill="#f3b0b2" filter="url(#b1)" transform="rotate(35 666.2 211.5)"/>
<ellipse cx="665.7" cy="210.5" rx="4" ry="2.6" fill="#fff" opacity="0.8" filter="url(#b1)" transform="rotate(35 666.2 211.5)"/>
<ellipse cx="715.2" cy="220.5" rx="8.5" ry="6" fill="#f3b0b2" filter="url(#b1)" transform="rotate(35 715.2 220.5)"/>
<ellipse cx="714.7" cy="219.5" rx="4" ry="2.6" fill="#fff" opacity="0.8" filter="url(#b1)" transform="rotate(35 715.2 220.5)"/>
<ellipse cx="668.8" cy="228.2" rx="8.5" ry="6" fill="#f3b0b2" filter="url(#b1)" transform="rotate(35 668.8 228.2)"/>
<ellipse cx="668.3" cy="227.2" rx="4" ry="2.6" fill="#fff" opacity="0.8" filter="url(#b1)" transform="rotate(35 668.8 228.2)"/>
<ellipse cx="688.1" cy="194" rx="8.5" ry="6" fill="#f3b0b2" filter="url(#b1)" transform="rotate(35 688.1 194)"/>
<ellipse cx="687.6" cy="193" rx="4" ry="2.6" fill="#fff" opacity="0.8" filter="url(#b1)" transform="rotate(35 688.1 194)"/>
<ellipse cx="683" cy="210.2" rx="8.5" ry="6" fill="#f3b0b2" filter="url(#b1)" transform="rotate(35 683 210.2)"/>
<ellipse cx="682.5" cy="209.2" rx="4" ry="2.6" fill="#fff" opacity="0.8" filter="url(#b1)" transform="rotate(35 683 210.2)"/>
<ellipse cx="725" cy="175" rx="8.5" ry="6" fill="#f3b0b2" filter="url(#b1)" transform="rotate(35 725 175)"/>
<ellipse cx="724.5" cy="174" rx="4" ry="2.6" fill="#fff" opacity="0.8" filter="url(#b1)" transform="rotate(35 725 175)"/>
<ellipse cx="695" cy="225" rx="8.5" ry="6" fill="#f3b0b2" filter="url(#b1)" transform="rotate(35 695 225)"/>
<ellipse cx="694.5" cy="224" rx="4" ry="2.6" fill="#fff" opacity="0.8" filter="url(#b1)" transform="rotate(35 695 225)"/>
</g>
<circle cx="691.8" cy="196.2" r="52.199999999999996" fill="none" stroke="#c01f2c" stroke-width="2.2"/>
<clipPath id="cc2"><circle cx="707.8" cy="373.6" r="53.3"/></clipPath>
<g clip-path="url(#cc2)">
<rect x="654.5" y="320.3" width="106.6" height="106.6" fill="#de4258"/>
<ellipse cx="697.7" cy="330.2" rx="10" ry="8.8" fill="#f0a2a8" filter="url(#b2)" transform="rotate(-30 697.7 330.2)"/>
<ellipse cx="718.3" cy="335.3" rx="10" ry="8.8" fill="#f0a2a8" filter="url(#b2)" transform="rotate(-30 718.3 335.3)"/>
<ellipse cx="680.9" cy="337.9" rx="10" ry="8.8" fill="#f0a2a8" filter="url(#b2)" transform="rotate(-30 680.9 337.9)"/>
<ellipse cx="735" cy="348.2" rx="10" ry="8.8" fill="#f0a2a8" filter="url(#b2)" transform="rotate(-30 735 348.2)"/>
<ellipse cx="700.3" cy="350.8" rx="10" ry="8.8" fill="#f0a2a8" filter="url(#b2)" transform="rotate(-30 700.3 350.8)"/>
<ellipse cx="723.5" cy="356" rx="10" ry="8.8" fill="#f0a2a8" filter="url(#b2)" transform="rotate(-30 723.5 356)"/>
<ellipse cx="682.2" cy="363.7" rx="10" ry="8.8" fill="#f0a2a8" filter="url(#b2)" transform="rotate(-30 682.2 363.7)"/>
<ellipse cx="665.5" cy="367.5" rx="10" ry="8.8" fill="#f0a2a8" filter="url(#b2)" transform="rotate(-30 665.5 367.5)"/>
<ellipse cx="709.3" cy="374" rx="10" ry="8.8" fill="#f0a2a8" filter="url(#b2)" transform="rotate(-30 709.3 374)"/>
<ellipse cx="748" cy="376.6" rx="10" ry="8.8" fill="#f0a2a8" filter="url(#b2)" transform="rotate(-30 748 376.6)"/>
<ellipse cx="731.2" cy="384.3" rx="10" ry="8.8" fill="#f0a2a8" filter="url(#b2)" transform="rotate(-30 731.2 384.3)"/>
<ellipse cx="699" cy="392" rx="10" ry="8.8" fill="#f0a2a8" filter="url(#b2)" transform="rotate(-30 699 392)"/>
<ellipse cx="718.3" cy="394.6" rx="10" ry="8.8" fill="#f0a2a8" filter="url(#b2)" transform="rotate(-30 718.3 394.6)"/>
<ellipse cx="686" cy="403.6" rx="10" ry="8.8" fill="#f0a2a8" filter="url(#b2)" transform="rotate(-30 686 403.6)"/>
<ellipse cx="728.6" cy="406.2" rx="10" ry="8.8" fill="#f0a2a8" filter="url(#b2)" transform="rotate(-30 728.6 406.2)"/>
<ellipse cx="709.3" cy="414" rx="10" ry="8.8" fill="#f0a2a8" filter="url(#b2)" transform="rotate(-30 709.3 414)"/>
<ellipse cx="673.2" cy="388.2" rx="10" ry="8.8" fill="#f0a2a8" filter="url(#b2)" transform="rotate(-30 673.2 388.2)"/>
<ellipse cx="753" cy="361" rx="10" ry="8.8" fill="#f0a2a8" filter="url(#b2)" transform="rotate(-30 753 361)"/>
<ellipse cx="662.9" cy="377.9" rx="10" ry="8.8" fill="#f0a2a8" filter="url(#b2)" transform="rotate(-30 662.9 377.9)"/>
<ellipse cx="745" cy="400" rx="10" ry="8.8" fill="#f0a2a8" filter="url(#b2)" transform="rotate(-30 745 400)"/>
<ellipse cx="690" cy="420" rx="10" ry="8.8" fill="#f0a2a8" filter="url(#b2)" transform="rotate(-30 690 420)"/>
<ellipse cx="672" cy="410" rx="10" ry="8.8" fill="#f0a2a8" filter="url(#b2)" transform="rotate(-30 672 410)"/>
<ellipse cx="660" cy="345" rx="10" ry="8.8" fill="#f0a2a8" filter="url(#b2)" transform="rotate(-30 660 345)"/>
<ellipse cx="696.7" cy="329.2" rx="3.6" ry="3" fill="#fff" opacity="0.85" filter="url(#b1)"/>
<ellipse cx="717.3" cy="334.3" rx="3.6" ry="3" fill="#fff" opacity="0.85" filter="url(#b1)"/>
<ellipse cx="679.9" cy="336.9" rx="3.6" ry="3" fill="#fff" opacity="0.85" filter="url(#b1)"/>
<ellipse cx="734" cy="347.2" rx="3.6" ry="3" fill="#fff" opacity="0.85" filter="url(#b1)"/>
<ellipse cx="699.3" cy="349.8" rx="3.6" ry="3" fill="#fff" opacity="0.85" filter="url(#b1)"/>
<ellipse cx="722.5" cy="355" rx="3.6" ry="3" fill="#fff" opacity="0.85" filter="url(#b1)"/>
<ellipse cx="681.2" cy="362.7" rx="3.6" ry="3" fill="#fff" opacity="0.85" filter="url(#b1)"/>
<ellipse cx="664.5" cy="366.5" rx="3.6" ry="3" fill="#fff" opacity="0.85" filter="url(#b1)"/>
<ellipse cx="708.3" cy="373" rx="3.6" ry="3" fill="#fff" opacity="0.85" filter="url(#b1)"/>
<ellipse cx="747" cy="375.6" rx="3.6" ry="3" fill="#fff" opacity="0.85" filter="url(#b1)"/>
<ellipse cx="730.2" cy="383.3" rx="3.6" ry="3" fill="#fff" opacity="0.85" filter="url(#b1)"/>
<ellipse cx="698" cy="391" rx="3.6" ry="3" fill="#fff" opacity="0.85" filter="url(#b1)"/>
<ellipse cx="717.3" cy="393.6" rx="3.6" ry="3" fill="#fff" opacity="0.85" filter="url(#b1)"/>
<ellipse cx="685" cy="402.6" rx="3.6" ry="3" fill="#fff" opacity="0.85" filter="url(#b1)"/>
<ellipse cx="727.6" cy="405.2" rx="3.6" ry="3" fill="#fff" opacity="0.85" filter="url(#b1)"/>
<ellipse cx="708.3" cy="413" rx="3.6" ry="3" fill="#fff" opacity="0.85" filter="url(#b1)"/>
<ellipse cx="672.2" cy="387.2" rx="3.6" ry="3" fill="#fff" opacity="0.85" filter="url(#b1)"/>
<ellipse cx="752" cy="360" rx="3.6" ry="3" fill="#fff" opacity="0.85" filter="url(#b1)"/>
<ellipse cx="661.9" cy="376.9" rx="3.6" ry="3" fill="#fff" opacity="0.85" filter="url(#b1)"/>
<ellipse cx="744" cy="399" rx="3.6" ry="3" fill="#fff" opacity="0.85" filter="url(#b1)"/>
<ellipse cx="689" cy="419" rx="3.6" ry="3" fill="#fff" opacity="0.85" filter="url(#b1)"/>
<ellipse cx="671" cy="409" rx="3.6" ry="3" fill="#fff" opacity="0.85" filter="url(#b1)"/>
<ellipse cx="659" cy="344" rx="3.6" ry="3" fill="#fff" opacity="0.85" filter="url(#b1)"/>
</g>
<circle cx="707.8" cy="373.6" r="52.199999999999996" fill="none" stroke="#c01f2c" stroke-width="2.2"/>
<clipPath id="cc3"><circle cx="640.8" cy="544.8" r="53.2"/></clipPath>
<g clip-path="url(#cc3)">
<radialGradient id="rg3" cx="640.8" cy="544.8" r="53.2" gradientUnits="userSpaceOnUse"><stop offset="0" stop-color="#ee9490"/><stop offset="0.6" stop-color="#e87a78"/><stop offset="1" stop-color="#de5a60"/></radialGradient>
<rect x="587.5999999999999" y="491.59999999999997" width="106.4" height="106.4" fill="url(#rg3)"/>
<path d="M577.5999999999999,487.59999999999997 C581.5999999999999,519.8 591.5999999999999,539.8 587.5999999999999,556.8 S595.5999999999999,579.8 597.5999999999999,602.0" stroke="#f8c6c2" stroke-width="4.5" fill="none" opacity="0.55" filter="url(#b2)"/>
<path d="M586.5999999999999,487.59999999999997 C590.5999999999999,519.8 600.5999999999999,539.8 596.5999999999999,556.8 S604.5999999999999,579.8 606.5999999999999,602.0" stroke="#f8c6c2" stroke-width="4.5" fill="none" opacity="0.55" filter="url(#b2)"/>
<path d="M595.5999999999999,487.59999999999997 C599.5999999999999,519.8 609.5999999999999,539.8 605.5999999999999,556.8 S613.5999999999999,579.8 615.5999999999999,602.0" stroke="#f8c6c2" stroke-width="4.5" fill="none" opacity="0.55" filter="url(#b2)"/>
<path d="M604.5999999999999,487.59999999999997 C608.5999999999999,519.8 618.5999999999999,539.8 614.5999999999999,556.8 S622.5999999999999,579.8 624.5999999999999,602.0" stroke="#f8c6c2" stroke-width="4.5" fill="none" opacity="0.55" filter="url(#b2)"/>
<path d="M613.5999999999999,487.59999999999997 C617.5999999999999,519.8 627.5999999999999,539.8 623.5999999999999,556.8 S631.5999999999999,579.8 633.5999999999999,602.0" stroke="#f8c6c2" stroke-width="4.5" fill="none" opacity="0.55" filter="url(#b2)"/>
<path d="M622.5999999999999,487.59999999999997 C626.5999999999999,519.8 636.5999999999999,539.8 632.5999999999999,556.8 S640.5999999999999,579.8 642.5999999999999,602.0" stroke="#f8c6c2" stroke-width="4.5" fill="none" opacity="0.55" filter="url(#b2)"/>
<path d="M631.5999999999999,487.59999999999997 C635.5999999999999,519.8 645.5999999999999,539.8 641.5999999999999,556.8 S649.5999999999999,579.8 651.5999999999999,602.0" stroke="#f8c6c2" stroke-width="4.5" fill="none" opacity="0.55" filter="url(#b2)"/>
<path d="M640.5999999999999,487.59999999999997 C644.5999999999999,519.8 654.5999999999999,539.8 650.5999999999999,556.8 S658.5999999999999,579.8 660.5999999999999,602.0" stroke="#f8c6c2" stroke-width="4.5" fill="none" opacity="0.55" filter="url(#b2)"/>
<path d="M649.5999999999999,487.59999999999997 C653.5999999999999,519.8 663.5999999999999,539.8 659.5999999999999,556.8 S667.5999999999999,579.8 669.5999999999999,602.0" stroke="#f8c6c2" stroke-width="4.5" fill="none" opacity="0.55" filter="url(#b2)"/>
<path d="M658.5999999999999,487.59999999999997 C662.5999999999999,519.8 672.5999999999999,539.8 668.5999999999999,556.8 S676.5999999999999,579.8 678.5999999999999,602.0" stroke="#f8c6c2" stroke-width="4.5" fill="none" opacity="0.55" filter="url(#b2)"/>
<path d="M667.5999999999999,487.59999999999997 C671.5999999999999,519.8 681.5999999999999,539.8 677.5999999999999,556.8 S685.5999999999999,579.8 687.5999999999999,602.0" stroke="#f8c6c2" stroke-width="4.5" fill="none" opacity="0.55" filter="url(#b2)"/>
<path d="M676.5999999999999,487.59999999999997 C680.5999999999999,519.8 690.5999999999999,539.8 686.5999999999999,556.8 S694.5999999999999,579.8 696.5999999999999,602.0" stroke="#f8c6c2" stroke-width="4.5" fill="none" opacity="0.55" filter="url(#b2)"/>
<path d="M685.5999999999999,487.59999999999997 C689.5999999999999,519.8 699.5999999999999,539.8 695.5999999999999,556.8 S703.5999999999999,579.8 705.5999999999999,602.0" stroke="#f8c6c2" stroke-width="4.5" fill="none" opacity="0.55" filter="url(#b2)"/>
<path d="M582.5999999999999,487.59999999999997 C586.5999999999999,519.8 596.5999999999999,539.8 592.5999999999999,556.8 S600.5999999999999,579.8 602.5999999999999,602.0" stroke="#d9505a" stroke-width="2.5" fill="none" opacity="0.35" filter="url(#b1)"/>
<path d="M591.5999999999999,487.59999999999997 C595.5999999999999,519.8 605.5999999999999,539.8 601.5999999999999,556.8 S609.5999999999999,579.8 611.5999999999999,602.0" stroke="#d9505a" stroke-width="2.5" fill="none" opacity="0.35" filter="url(#b1)"/>
<path d="M600.5999999999999,487.59999999999997 C604.5999999999999,519.8 614.5999999999999,539.8 610.5999999999999,556.8 S618.5999999999999,579.8 620.5999999999999,602.0" stroke="#d9505a" stroke-width="2.5" fill="none" opacity="0.35" filter="url(#b1)"/>
<path d="M609.5999999999999,487.59999999999997 C613.5999999999999,519.8 623.5999999999999,539.8 619.5999999999999,556.8 S627.5999999999999,579.8 629.5999999999999,602.0" stroke="#d9505a" stroke-width="2.5" fill="none" opacity="0.35" filter="url(#b1)"/>
<path d="M618.5999999999999,487.59999999999997 C622.5999999999999,519.8 632.5999999999999,539.8 628.5999999999999,556.8 S636.5999999999999,579.8 638.5999999999999,602.0" stroke="#d9505a" stroke-width="2.5" fill="none" opacity="0.35" filter="url(#b1)"/>
<path d="M627.5999999999999,487.59999999999997 C631.5999999999999,519.8 641.5999999999999,539.8 637.5999999999999,556.8 S645.5999999999999,579.8 647.5999999999999,602.0" stroke="#d9505a" stroke-width="2.5" fill="none" opacity="0.35" filter="url(#b1)"/>
<path d="M636.5999999999999,487.59999999999997 C640.5999999999999,519.8 650.5999999999999,539.8 646.5999999999999,556.8 S654.5999999999999,579.8 656.5999999999999,602.0" stroke="#d9505a" stroke-width="2.5" fill="none" opacity="0.35" filter="url(#b1)"/>
<path d="M645.5999999999999,487.59999999999997 C649.5999999999999,519.8 659.5999999999999,539.8 655.5999999999999,556.8 S663.5999999999999,579.8 665.5999999999999,602.0" stroke="#d9505a" stroke-width="2.5" fill="none" opacity="0.35" filter="url(#b1)"/>
<path d="M654.5999999999999,487.59999999999997 C658.5999999999999,519.8 668.5999999999999,539.8 664.5999999999999,556.8 S672.5999999999999,579.8 674.5999999999999,602.0" stroke="#d9505a" stroke-width="2.5" fill="none" opacity="0.35" filter="url(#b1)"/>
<path d="M663.5999999999999,487.59999999999997 C667.5999999999999,519.8 677.5999999999999,539.8 673.5999999999999,556.8 S681.5999999999999,579.8 683.5999999999999,602.0" stroke="#d9505a" stroke-width="2.5" fill="none" opacity="0.35" filter="url(#b1)"/>
<path d="M672.5999999999999,487.59999999999997 C676.5999999999999,519.8 686.5999999999999,539.8 682.5999999999999,556.8 S690.5999999999999,579.8 692.5999999999999,602.0" stroke="#d9505a" stroke-width="2.5" fill="none" opacity="0.35" filter="url(#b1)"/>
<path d="M681.5999999999999,487.59999999999997 C685.5999999999999,519.8 695.5999999999999,539.8 691.5999999999999,556.8 S699.5999999999999,579.8 701.5999999999999,602.0" stroke="#d9505a" stroke-width="2.5" fill="none" opacity="0.35" filter="url(#b1)"/>
<path d="M690.5999999999999,487.59999999999997 C694.5999999999999,519.8 704.5999999999999,539.8 700.5999999999999,556.8 S708.5999999999999,579.8 710.5999999999999,602.0" stroke="#d9505a" stroke-width="2.5" fill="none" opacity="0.35" filter="url(#b1)"/>
<path d="M612.6,522 L619,533 L621.7,541.1 L628.1,534 L633,540 L637.1,543.7 L643.6,536.5 L653.9,534 L657,541 L660.3,547.6 L666,553 L670.6,559.2" stroke="#fff" stroke-width="2.8" fill="none" opacity="0.9" filter="url(#b1)"/>
<path d="M630,552 L634,572 M651,551 L655,570 M603,536 L607,558 M667,528 L669,546 M676,552 L679,570 M620,505 L623,520" stroke="#fff" stroke-width="2.4" fill="none" opacity="0.7" filter="url(#b1)"/>
</g>
<circle cx="640.8" cy="544.8" r="52.1" fill="none" stroke="#c01f2c" stroke-width="2.2"/>
<rect x="579.6" y="256.3" width="224.7" height="41.8" rx="20.9" ry="20.9" fill="#ae1c23" stroke="#fff" stroke-width="2.6"/>
<rect x="634.5" y="432.6" width="152.9" height="41.5" rx="20.8" ry="20.8" fill="#ae1c23" stroke="#fff" stroke-width="2.6"/>
<rect x="515.3" y="602.6" width="251.0" height="42.7" rx="21.3" ry="21.3" fill="#ae1c23" stroke="#fff" stroke-width="2.6"/>
<polyline points="3.5,567.6 270,567.6 306.9,511.1" fill="none" stroke="#c42a34" stroke-width="1.5"/>
<circle cx="306.9" cy="511.1" r="5.6" fill="#c8202a"/>
<polyline points="3.5,666 279.6,666 337.6,579.5" fill="none" stroke="#c42a34" stroke-width="1.5"/>
<circle cx="337.6" cy="579.5" r="5.5" fill="#c8202a"/>
<g font-family="Liberation Sans" fill="#fff" text-anchor="middle">
<text x="692.2" y="274.8" font-size="15.6">Sensitive point entrance</text>
<text x="692.7" y="289.5" font-size="15.25">increases intensive pleasure</text>
<text x="711.3" y="452.8" font-size="16.4">Tempting</text>
<text x="711.5" y="466.2" font-size="15.4">sensitive areas</text>
<text x="641.2" y="623.0" font-size="16.8">Peach-colored attractive</text>
<text x="641.2" y="635.8" font-size="16.6">mucous membrane</text>
</g>
<g font-family="Liberation Sans" fill="#1c1819" stroke="#1c1819" stroke-width="0.5">
<text transform="translate(3.4 556.1) scale(1.61 1)" font-size="25.6">ANAL</text>
<text transform="translate(6.6 655.6) scale(1.57 1)" font-size="25.4">VAGINA</text>
</g>
</svg>

</body></html>
